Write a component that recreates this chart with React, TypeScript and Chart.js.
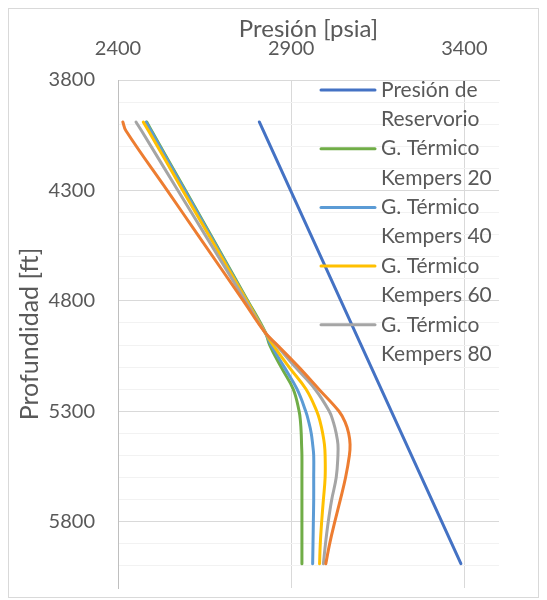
import React, { useEffect, useRef } from 'react';
import { Chart, registerables } from 'chart.js';

Chart.register(...registerables);

// Depth [ft] (shared by the Kempers curves)
const depths = [3990, 4030, 4300, 4500, 4800, 4944, 5000, 5100, 5200, 5300, 5350, 5400, 5450, 5500, 5600, 5700, 5800, 5900, 5990];

// Reservoir pressure line
const reservoirDepths = [3990, 5990];
const reservoirPressure = [2808, 3390];

// Pressure [psia] for each thermal gradient case
const kempers20 = [2483, 2497, 2595, 2667, 2775, 2826, 2838, 2871, 2906, 2923, 2927, 2929, 2930, 2931, 2931, 2931, 2931, 2931, 2931];
const kempers40 = [2481, 2495, 2593, 2665, 2773, 2825, 2842, 2880, 2917, 2942, 2951, 2958, 2962, 2965, 2965, 2965, 2964, 2963, 2962];
const kempers60 = [2473, 2488, 2587, 2661, 2772, 2825, 2848, 2894, 2943, 2974, 2984, 2991, 2996, 2998, 2998, 2993, 2988, 2984, 2982];
const kempers80 = [2452, 2468, 2573, 2651, 2768, 2825, 2857, 2912, 2969, 3010, 3022, 3030, 3035, 3035, 3030, 3017, 3007, 2999, 2993];
const kempers100 = [2414, 2423, 2542, 2630, 2762, 2825, 2860, 2922, 2980, 3038, 3056, 3066, 3070, 3068, 3057, 3042, 3026, 3011, 3000];

// Axes
const xMin = 2400;
const xMax = 3500;
const xTickValues = [2400, 2900, 3400];
const yMin = 3800;
const yMax = 6100;
const yMinorStep = 100;
const yLabelStep = 500;

const seriesNames = [
  'Presión de Reservorio',
  'G. Térmico Kempers 20',
  'G. Térmico Kempers 40',
  'G. Térmico Kempers 60',
  'G. Térmico Kempers 80',
  'G. Térmico Kempers 100',
];
const legendLines = [
  ['Presión de', 'Reservorio'],
  ['G. Térmico', 'Kempers 20'],
  ['G. Térmico', 'Kempers 40'],
  ['G. Térmico', 'Kempers 60'],
  ['G. Térmico', 'Kempers 80'],
];
const colors = ['#4472C4', '#70AD47', '#5B9BD5', '#FFC000', '#A5A5A5', '#ED7D31'];

const TEXT = '#595959';
const FONT = 'Lato';

const toPoints = (xs: number[], ys: number[]) => xs.map((x, i) => ({ x, y: ys[i] }));

const legendPlugin = {
  id: 'wrappedLegend',
  afterDatasetsDraw(chart: any) {
    const { ctx, chartArea } = chart;
    ctx.save();
    ctx.beginPath();
    ctx.rect(chartArea.left, chartArea.top, chartArea.right - chartArea.left, chartArea.bottom - chartArea.top);
    ctx.clip();
    const lineX = chartArea.left + 203;
    const textX = chartArea.left + 263;
    legendLines.forEach((lines, i) => {
      const y = chartArea.top + 10 + i * 58.7;
      const ds = chart.data.datasets[i];
      ctx.strokeStyle = ds.borderColor;
      ctx.lineWidth = 3;
      ctx.lineCap = 'round';
      ctx.beginPath();
      ctx.moveTo(lineX, y);
      ctx.lineTo(lineX + 54, y);
      ctx.stroke();
      ctx.fillStyle = TEXT;
      ctx.font = `21px ${FONT}`;
      ctx.textAlign = 'left';
      ctx.textBaseline = 'middle';
      ctx.fillText(lines[0], textX, y);
      ctx.fillText(lines[1], textX, y + 29.3);
    });
    ctx.restore();
  },
};

export default function App() {
  const ref = useRef<HTMLCanvasElement>(null);

  useEffect(() => {
    if (!ref.current) return;
    const series = [
      toPoints(reservoirPressure, reservoirDepths),
      toPoints(kempers20, depths),
      toPoints(kempers40, depths),
      toPoints(kempers60, depths),
      toPoints(kempers80, depths),
      toPoints(kempers100, depths),
    ];
    const chart = new Chart(ref.current, {
      type: 'line',
      data: {
        datasets: series.map((data, i) => ({
          label: seriesNames[i],
          data,
          borderColor: colors[i],
          backgroundColor: colors[i],
          borderWidth: 3,
          borderCapStyle: 'round',
          borderJoinStyle: 'round',
          pointRadius: 0,
          pointHoverRadius: 0,
          tension: 0.4,
          fill: false,
          order: series.length - i,
        })),
      },
      options: {
        animation: false,
        responsive: false,
        maintainAspectRatio: false,
        layout: { padding: { left: 0, right: 39, top: 0, bottom: 9 } },
        plugins: {
          legend: { display: false },
          tooltip: { enabled: false },
        },
        scales: {
          x: {
            type: 'linear',
            position: 'top',
            min: xMin,
            max: xMax,
            afterBuildTicks: (scale: any) => {
              scale.ticks = xTickValues.map((v) => ({ value: v }));
            },
            afterFit: (scale: any) => {
              scale.height = 71;
              scale.paddingLeft = 0;
              scale.paddingRight = 0;
            },
            ticks: {
              color: TEXT,
              font: { family: FONT, size: 20 },
              padding: 19,
              maxRotation: 0,
              callback: (v: any) => String(v),
            },
            grid: { color: '#d9d9d9', lineWidth: 1, drawTicks: false },
            border: { display: true, color: '#d9d9d9', width: 1 },
            title: {
              display: true,
              text: 'Presión [psia]',
              color: TEXT,
              font: { family: FONT, size: 24 },
              padding: { top: 6, bottom: 0 },
            },
          },
          y: {
            type: 'linear',
            reverse: true,
            min: yMin,
            max: yMax,
            afterBuildTicks: (scale: any) => {
              const t = [];
              for (let v = yMin; v < yMax; v += yMinorStep) t.push({ value: v });
              scale.ticks = t;
            },
            afterFit: (scale: any) => {
              scale.width = 109;
              scale.paddingTop = 0;
              scale.paddingBottom = 0;
            },
            ticks: {
              color: TEXT,
              font: { family: FONT, size: 20 },
              padding: 23,
              autoSkip: false,
              callback: (v: any) => ((Number(v) - yMin) % yLabelStep === 0 ? String(v) : ''),
            },
            grid: {
              color: (c: any) => (c.tick && (c.tick.value - yMin) % yLabelStep === 0 ? '#d9d9d9' : '#f2f2f2'),
              lineWidth: 1,
              drawTicks: false,
            },
            border: { display: true, color: '#bfbfbf', width: 1 },
            title: {
              display: true,
              text: 'Profundidad [ft]',
              color: TEXT,
              font: { family: FONT, size: 25 },
              padding: { top: 6, bottom: 0 },
            },
          },
        },
      },
      plugins: [legendPlugin],
    });
    return () => chart.destroy();
  }, []);

  return (
    <div style={{ width: 529, height: 588, border: '1px solid #d9d9d9', background: '#ffffff' }}>
      <canvas ref={ref} width={529} height={588} style={{ display: 'block' }} />
    </div>
  );
}
